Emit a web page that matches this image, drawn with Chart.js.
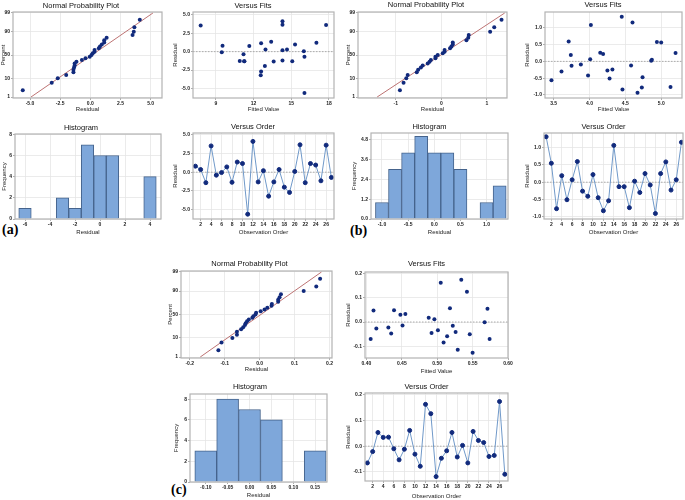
<!DOCTYPE html>
<html lang="en">
<head>
<meta charset="UTF-8">
<title>Residual plots</title>
<script src="https://cdn.jsdelivr.net/npm/chart.js"></script>
<style>
  body { margin: 0; background: #fff; width: 685px; height: 500px; position: relative; overflow: hidden; }
  canvas { position: absolute; }
  .tag { position: absolute; font: bold 14px 'Liberation Serif', 'DejaVu Serif', serif; color: #000; line-height: 14px; }
</style>
</head>
<body>
<div class="tag" style="left:2px;top:223px">(a)</div>
<div class="tag" style="left:350px;top:224px">(b)</div>
<div class="tag" style="left:171px;top:483px">(c)</div>
<script>
// ---------- data ----------
// residuals in observation order
const orderA = [0.8, 0.35, -1.4, 3.5, -0.4, -0.05, 0.7, -1.35, 1.35, 1.15, -5.6, 4.1, -1.3, 0.2, -3.2, -1.3, 0.35, -2.0, -2.7, 0.1, 3.65, -1.4, 1.15, 0.95, -1.15, 3.6, -0.7];
const orderB = [1.32, 0.55, -0.77, 0.19, -0.51, 0.07, 0.6, -0.26, -0.41, 0.22, -0.45, -0.83, -0.54, 1.07, -0.13, -0.13, -0.74, 0.03, -0.3, 0.25, -0.08, -0.91, 0.25, 0.59, -0.23, 0.07, 1.16];
const orderC = [-0.065, -0.021, 0.053, 0.034, 0.035, -0.010, -0.053, -0.012, 0.061, -0.031, -0.078, 0.162, 0.126, -0.118, -0.047, -0.018, 0.053, -0.042, 0.003, -0.065, 0.057, 0.022, 0.014, -0.040, -0.036, 0.173, -0.109];

// versus fits: fitted value / residual pairs
const fitsA   = [7.79, 9.47, 9.53, 10.9, 11.2, 11.27, 11.25, 11.66, 12.6, 12.6, 12.57, 12.95, 12.9, 13.4, 13.6, 14.3, 14.3, 14.3, 14.3, 14.66, 15.08, 15.3, 16.0, 16.05, 16.05, 17.0, 17.77];
const fitResA = [3.55, -0.1, 0.8, -1.25, -0.35, -1.3, -1.3, 0.77, 1.15, -2.7, -3.2, 0.3, -1.95, 1.35, -1.35, 4.1, 3.65, 0.2, -1.2, 0.3, -1.3, 0.95, 0.05, -0.7, -5.6, 1.2, 3.6];
const fitsB   = [3.47, 3.61, 3.71, 3.74, 3.75, 3.88, 3.98, 4.01, 4.02, 4.15, 4.19, 4.25, 4.28, 4.32, 4.45, 4.46, 4.58, 4.6, 4.67, 4.73, 4.74, 4.86, 4.87, 4.94, 5.0, 5.13, 5.2];
const fitResB = [-0.56, -0.3, 0.59, 0.19, -0.13, -0.09, -0.42, 0.06, 1.08, 0.26, 0.22, -0.27, -0.51, -0.24, 1.33, -0.84, -0.12, 1.16, -0.93, -0.78, -0.47, 0.02, 0.05, 0.58, 0.56, -0.76, 0.25];
const fitsC   = [0.406, 0.410, 0.414, 0.431, 0.435, 0.439, 0.448, 0.451, 0.455, 0.488, 0.492, 0.496, 0.501, 0.505, 0.509, 0.514, 0.518, 0.522, 0.526, 0.529, 0.534, 0.542, 0.546, 0.550, 0.567, 0.571, 0.574];
const fitResC = [-0.070, 0.048, -0.027, -0.023, -0.048, 0.049, 0.030, -0.014, 0.033, 0.018, -0.045, 0.011, -0.034, 0.163, -0.085, -0.059, 0.057, -0.016, -0.041, -0.115, 0.175, 0.125, -0.051, -0.127, -0.001, 0.055, -0.070];

// histograms: bin midpoints and counts
const binsA   = [-6, -5, -4, -3, -2, -1, 0, 1, 2, 3, 4];
const countsA = [1, 0, 0, 2, 1, 7, 6, 6, 0, 0, 4];
const binsB   = [-1.0, -0.75, -0.5, -0.25, 0, 0.25, 0.5, 0.75, 1.0, 1.25];
const countsB = [1, 3, 4, 5, 4, 4, 3, 0, 1, 2];
const binsC   = [-0.10, -0.05, 0, 0.05, 0.10, 0.15];
const countsC = [3, 8, 7, 6, 0, 3];

// normal probability plot: plotting positions (%) and fitted line (residual at 1% and 99%)
const probPct = [2.55, 6.20, 9.85, 13.50, 17.15, 20.80, 24.45, 28.10, 31.75, 35.40, 39.05, 42.70, 46.35, 50.00,
                 53.65, 57.30, 60.95, 64.60, 68.25, 71.90, 75.55, 79.20, 82.85, 86.50, 90.15, 93.80, 97.45];
const lineA = [-4.92, 5.19];
const lineB = [-1.41, 1.39];
const lineC = [-0.170, 0.177];

// tick labels
const pctTicks = [1, 10, 50, 90, 99];
const orderTicks = [2, 4, 6, 8, 10, 12, 14, 16, 18, 20, 22, 24, 26];
const nppXA = [-5, -2.5, 0, 2.5, 5],  nppXLabA = ['-5.0', '-2.5', '0.0', '2.5', '5.0'];
const nppXB = [-1, 0, 1],             nppXLabB = ['-1', '0', '1'];
const nppXC = [-0.2, -0.1, 0, 0.1, 0.2], nppXLabC = ['-0.2', '-0.1', '0.0', '0.1', '0.2'];
const resA = [-5, -2.5, 0, 2.5, 5],   resLabA = ['-5.0', '-2.5', '0.0', '2.5', '5.0'];
const resB = [-1, -0.5, 0, 0.5, 1],   resLabB = ['-1.0', '-0.5', '0.0', '0.5', '1.0'];
const resC = [-0.1, 0, 0.1, 0.2],     resLabC = ['-0.1', '0.0', '0.1', '0.2'];
const fitXA = [9, 12, 15, 18],        fitXLabA = ['9', '12', '15', '18'];
const fitXB = [3.5, 4, 4.5, 5],       fitXLabB = ['3.5', '4.0', '4.5', '5.0'];
const fitXC = [0.4, 0.45, 0.5, 0.55, 0.6], fitXLabC = ['0.40', '0.45', '0.50', '0.55', '0.60'];
const histXA = [-6, -4, -2, 0, 2, 4], histXLabA = ['-6', '-4', '-2', '0', '2', '4'];
const histXB = [-1, -0.5, 0, 0.5, 1], histXLabB = ['-1.0', '-0.5', '0.0', '0.5', '1.0'];
const histXC = [-0.1, -0.05, 0, 0.05, 0.1, 0.15], histXLabC = ['-0.10', '-0.05', '0.00', '0.05', '0.10', '0.15'];
const freqA = [0, 2, 4, 6, 8], freqLabA = ['0', '2', '4', '6', '8'];
const freqB = [0, 1.2, 2.4, 3.6, 4.8], freqLabB = ['0.0', '1.2', '2.4', '3.6', '4.8'];

// ---------- helpers ----------
const FAM = "'Liberation Sans', Arial, sans-serif";
const NAVY = '#112a7c';
Chart.defaults.font.family = FAM;
Chart.defaults.color = '#222';

// inverse normal cdf (Acklam) - used for the probability axis
function probit(p) {
  const a = [-39.69683028665376, 220.9460984245205, -275.9285104469687, 138.3577518672690, -30.66479806614716, 2.506628277459239];
  const b = [-54.47609879822406, 161.5858368580409, -155.6989798598866, 66.80131188771972, -13.28068155288572];
  const c = [-0.007784894002430293, -0.3223964580411365, -2.400758277161838, -2.549732539343734, 4.374664141464968, 2.938163982698783];
  const d = [0.007784695709041462, 0.3224671290700398, 2.445134137142996, 3.754408661907416];
  const tail = q => (((((c[0]*q+c[1])*q+c[2])*q+c[3])*q+c[4])*q+c[5]) / ((((d[0]*q+d[1])*q+d[2])*q+d[3])*q+1);
  if (p < 0.02425) return tail(Math.sqrt(-2 * Math.log(p)));
  if (p > 0.97575) return -tail(Math.sqrt(-2 * Math.log(1 - p)));
  const q = p - 0.5, r = q * q;
  return (((((a[0]*r+a[1])*r+a[2])*r+a[3])*r+a[4])*r+a[5])*q / (((((b[0]*r+b[1])*r+b[2])*r+b[3])*r+b[4])*r+1);
}

const frame = {
  id: 'frame',
  afterDraw(chart) {
    const { ctx, chartArea: a } = chart;
    ctx.save();
    ctx.strokeStyle = '#b3b3b3';
    ctx.lineWidth = 1.2;
    ctx.strokeRect(a.left, a.top, a.right - a.left, a.bottom - a.top);
    ctx.restore();
  }
};

function axis(range, ticks, labels, title, fit, isX) {
  return {
    type: 'linear', min: range[0], max: range[1], offset: false,
    afterBuildTicks: s => { s.ticks = ticks.map(v => ({ value: v })); },
    afterFit: s => { if (isX) s.height = fit; else s.width = fit; },
    ticks: { autoSkip: false, maxRotation: 0, minRotation: 0, padding: 1, color: '#222',
             font: { size: 5, family: FAM, weight: 'bold' }, callback: (v, i) => labels[i] },
    grid: { color: '#e6e6e6', lineWidth: 0.8, tickLength: 2, tickColor: '#999', offset: false },
    border: { display: false },
    title: { display: true, text: title, color: '#222', padding: 0, font: { size: 6, family: FAM, lineHeight: 1.2 } }
  };
}

function build(s) {
  const [pl, pt, pr, pb] = s.plot;
  const lhT = 7.5 * 1.2, lhA = 6 * 1.2;
  const top = Math.round(s.titleY - lhT / 2 - 1);
  const left = Math.round(s.yTitleX - lhA / 2);
  const T = pt - top, L = pl - left;
  const W = Math.round(L + pr - pl + 8);
  const H = Math.round(T + pb - pt + s.xTitleY - pb + lhA / 2);
  const R = W - L - (pr - pl), B = H - T - (pb - pt);
  const cv = document.createElement('canvas');
  cv.width = W; cv.height = H;
  cv.style.left = left + 'px'; cv.style.top = top + 'px';
  document.body.appendChild(cv);
  new Chart(cv, {
    type: s.type || 'scatter',
    data: { datasets: s.datasets },
    options: {
      responsive: false, animation: false,
      layout: { padding: { left: 0, top: 0, right: R, bottom: 0 } },
      plugins: {
        legend: { display: false }, tooltip: { enabled: false },
        title: { display: true, text: s.title, color: '#111',
                 font: { size: 7.5, family: FAM, weight: 'normal', lineHeight: 1.2 },
                 padding: { top: 1, bottom: T - 1 - lhT } }
      },
      scales: {
        x: axis(s.xr, s.xt, s.xl, s.xTitle, B, true),
        y: axis(s.yr, s.yt, s.yl, s.yTitle, L, false)
      }
    },
    plugins: [frame]
  });
}

const pts = (xs, ys) => xs.map((x, i) => ({ x, y: ys[i] }));
const dots = data => ({ data, pointRadius: 2, pointBackgroundColor: NAVY, pointBorderColor: NAVY, borderWidth: 0 });
const zeroLine = xr => ({ data: [{ x: xr[0], y: 0 }, { x: xr[1], y: 0 }], showLine: true, borderColor: '#9a9a9a',
                          borderWidth: 0.8, borderDash: [1.5, 1.5], pointRadius: 0 });
const pctZ = pctTicks.map(p => probit(p / 100));
const pctLab = pctTicks.map(String);
const zr = [-2.38, 2.38];

function npp(plot, titleY, xTitleY, yTitleX, res, line, xr, xt, xl) {
  const sorted = res.slice().sort((a, b) => a - b);
  build({
    plot, titleY, xTitleY, yTitleX, title: 'Normal Probability Plot', xTitle: 'Residual', yTitle: 'Percent',
    xr, xt, xl, yr: zr, yt: pctZ, yl: pctLab,
    datasets: [
      dots(sorted.map((x, i) => ({ x, y: probit(probPct[i] / 100) }))),
      { data: [{ x: line[0], y: probit(0.01) }, { x: line[1], y: probit(0.99) }], showLine: true,
        borderColor: '#bd7373', borderWidth: 1, pointRadius: 0 }
    ]
  });
}

function vfits(plot, titleY, xTitleY, yTitleX, fx, fy, xr, xt, xl, yr, yt, yl) {
  build({
    plot, titleY, xTitleY, yTitleX, title: 'Versus Fits', xTitle: 'Fitted Value', yTitle: 'Residual',
    xr, xt, xl, yr, yt, yl,
    datasets: [dots(pts(fx, fy)), zeroLine(xr)]
  });
}

function hist(plot, titleY, xTitleY, yTitleX, bins, counts, xr, xt, xl, yr, yt, yl) {
  build({
    type: 'bar', plot, titleY, xTitleY, yTitleX, title: 'Histogram', xTitle: 'Residual', yTitle: 'Frequency',
    xr, xt, xl, yr, yt, yl,
    datasets: [{ data: pts(bins, counts), backgroundColor: '#7ea7da', borderColor: '#45638c', borderWidth: 1,
                 barPercentage: 1, categoryPercentage: 1 }]
  });
}

function vorder(plot, titleY, xTitleY, yTitleX, res, xr, yr, yt, yl) {
  build({
    plot, titleY, xTitleY, yTitleX, title: 'Versus Order', xTitle: 'Observation Order', yTitle: 'Residual',
    xr, xt: orderTicks, xl: orderTicks.map(String), yr, yt, yl,
    datasets: [
      Object.assign(dots(res.map((y, i) => ({ x: i + 1, y }))), { showLine: true, borderColor: '#7099c9', borderWidth: 1 }),
      zeroLine(xr)
    ]
  });
}

// ---------- panel (a) ----------
npp([13, 12, 162, 98], 5, 109, 4, orderA, lineA, [-6.41, 5.94], nppXA, nppXLabA);
vfits([193, 12, 334, 98], 5, 109, 176, fitsA, fitResA, [7.18, 18.4], fitXA, fitXLabA, [-6.27, 5.36], resA, resLabA);
hist([15, 134, 161, 219], 127, 232, 5, binsA, countsA, [-6.8, 4.88], histXA, histXLabA, [0, 8.03], freqA, freqLabA);
vorder([193, 133, 334, 219], 126, 232, 176, orderA, [0.54, 27.5], [-6.24, 5.22], resA, resLabA);

// ---------- panel (b) ----------
npp([358, 12, 507, 98], 4.5, 109, 349, orderB, lineB, [-1.83, 1.44], nppXB, nppXLabB);
vfits([545, 12, 682, 98], 4.5, 109, 528, fitsB, fitResB, [3.38, 5.29], fitXB, fitXLabB, [-1.09, 1.47], resB, resLabB);
hist([371, 133, 508, 219], 126, 232, 355, binsB, countsB, [-1.21, 1.41], histXB, histXLabB, [0, 5.2], freqB, freqLabB);
vorder([544, 133, 683, 219], 126, 232, 528, orderB, [0.59, 27.3], [-1.07, 1.43], resB, resLabB);

// ---------- panel (c) ----------
npp([181, 271, 332, 358], 263, 369, 171, orderC, lineC, [-0.225, 0.207], nppXC, nppXLabC);
vfits([365, 272, 508, 358], 263, 371, 349, fitsC, fitResC, [0.398, 0.60], fitXC, fitXLabC, [-0.149, 0.207], resC, resLabC);
hist([190, 394, 327, 482], 386, 495, 177, binsC, countsC, [-0.136, 0.177], histXC, histXLabC, [0, 8.5], freqA, freqLabA);
vorder([365, 393, 508, 481], 386, 496, 349, orderC, [0.55, 27.6], [-0.135, 0.206], resC, resLabC);
</script>
</body>
</html>
